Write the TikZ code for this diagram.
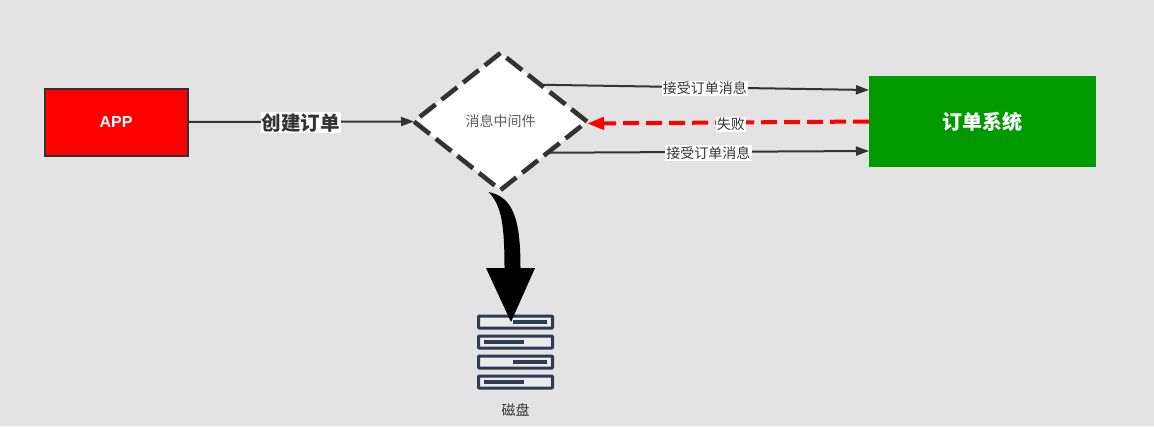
\documentclass[tikz,border=0pt]{standalone}
\usepackage{fontspec}
\setmainfont{Liberation Sans}
\newfontfamily\cjk{Noto Sans CJK SC}
\usetikzlibrary{arrows.meta,shapes.geometric,calc}
\definecolor{bgc}{HTML}{E3E3E3}
\definecolor{linec}{HTML}{333333}
\definecolor{iconc}{HTML}{2D3B52}
\definecolor{redc}{HTML}{FF0000}
\definecolor{greenc}{HTML}{009900}
\tikzset{
  x=1pt,y=-1pt,
  conn/.style={draw=linec,line width=2pt,-{Triangle[length=13pt,width=9pt]}},
  lab/.style={fill=white,text=linec,inner sep=1.2pt,yshift=-1pt,font=\cjk\fontsize{14}{14}\selectfont},
  diskrow/.style={draw=iconc,line width=3pt,fill=bgc!70!white,rounded corners=0.8pt},
  diskbar/.style={draw=iconc,line width=3.4pt},
}
\begin{document}
\begin{tikzpicture}
\useasboundingbox (0,0) rectangle (1154,426);
\fill[bgc] (0,0) rectangle (1154,426);
\node[draw=linec,line width=2pt,fill=redc,minimum width=143pt,minimum height=67pt,inner sep=0,outer sep=0,text=white,font=\bfseries\fontsize{16}{16}\selectfont] (app) at (116,122) {APP};
\node[diamond,draw=linec,line width=4.6pt,dash pattern=on 20pt off 7.6pt,fill=white,minimum width=173pt,minimum height=137pt,aspect=1.26,inner sep=0,outer sep=0,text=linec!80!white,font=\cjk\fontsize{14}{14}\selectfont] (mq) at (500.5,121.5) {\raisebox{-1pt}{消息中间件}};
\node[fill=greenc,minimum width=227pt,minimum height=91pt,inner sep=0,outer sep=0,text=white,font=\cjk\bfseries\fontsize{20}{20}\selectfont] (order) at (982.5,121.5) {订单系统};
\node[minimum width=76pt,minimum height=74pt,inner sep=0,outer sep=0] (disk) at (515.5,352) {};
\node[text=linec,inner sep=0,font=\cjk\fontsize{14}{14}\selectfont] (disklabel) at (515.5,410) {磁盘};
% disk icon
\foreach \yy/\xa/\xb in {322/513/547,342/484/524,362/513/547,382/484/524}{
  \draw[diskrow] (478.5,\yy-6) rectangle (552.5,\yy+6);
  \draw[diskbar] (\xa,\yy) -- (\xb,\yy);
}
% connectors
\draw[conn] (app.east) -- node[lab,font=\cjk\bfseries\fontsize{19.5}{19.5}\selectfont] (l1) {创建订单} (mq.west);
\draw[conn] ($(mq.north east)+(-3,-2.5)$) -- node[lab,pos=0.5] (l2) {接受订单消息} ($(order.west)+(0,-31.5)$);
\draw[conn] ($(mq.south east)+(4,-3)$) -- node[lab,pos=0.5] (l3) {接受订单消息} ($(order.west)+(0,29.5)$);
\draw[draw=redc,line width=4pt,dash pattern=on 16pt off 7pt,-{Triangle[length=17pt,width=12pt]}] (order.west) -- node[lab,pos=0.49,yshift=-1pt] (l4) {失败} ($(mq.east)+(0,2)$);
% thick curved arrow
\coordinate (bigstart) at ($(mq.south)+(-12,2)$);
\coordinate (bigtip) at ($(disk.north)+(-4.5,7)$);
\fill[black] (bigstart) .. controls ($(bigstart)+(25,5)$) and ($(bigstart)+(32,28)$) .. ($(bigstart)+(32,76)$)
  -- ($(bigtip)+(24,-54)$) -- (bigtip) -- ($(bigtip)+(-25,-54)$) -- ($(bigstart)+(16,76)$)
  .. controls ($(bigstart)+(16,33)$) and ($(bigstart)+(13,13)$) .. (bigstart) -- cycle;
\end{tikzpicture}
\end{document}
